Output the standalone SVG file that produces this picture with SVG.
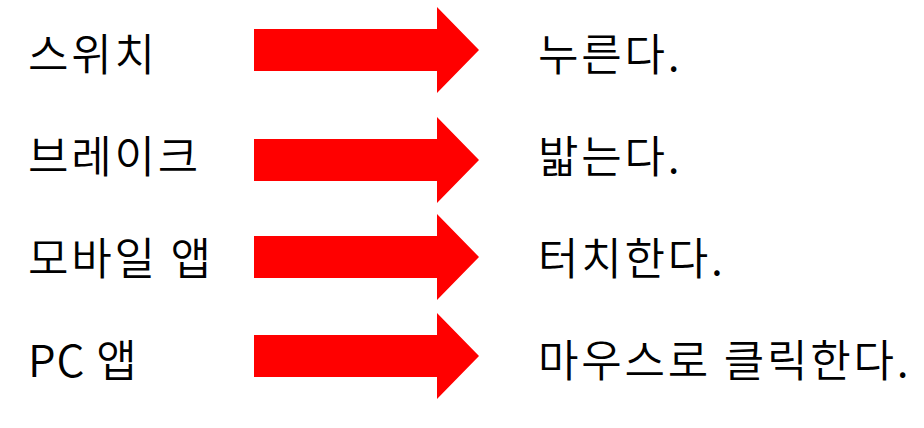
<svg xmlns="http://www.w3.org/2000/svg" width="924" height="428" viewBox="0 0 924 428">
<defs>
<style>
text{font-family:"Noto Sans CJK KR","Noto Sans",sans-serif;font-size:44px;letter-spacing:2.8px;font-weight:350;fill:#000}
.arr{fill:#ff0000}
</style>
<path id="arrow" d="M0,-21 H183 V-43 L225,0 L183,43 V21 H0 Z"/>
</defs>
<rect width="924" height="428" fill="#fff"/>
<g id="row1">
<text x="28" y="71">스위치</text>
<text x="538" y="71">누른다.</text>
</g>
<g id="row2">
<text x="28" y="173">브레이크</text>
<text x="538" y="173">밟는다.</text>
</g>
<g id="row3">
<text x="28" y="275">모바일 앱</text>
<text x="538" y="275">터치한다.</text>
</g>
<g id="row4">
<text x="28" y="377" style="letter-spacing:1px">PC 앱</text>
<text x="538" y="377">마우스로 클릭한다.</text>
</g>
<g id="connectors">
<use href="#arrow" class="arr" x="254" y="50"/>
<use href="#arrow" class="arr" x="254" y="160"/>
<use href="#arrow" class="arr" x="254" y="257"/>
<use href="#arrow" class="arr" x="254" y="356"/>
</g>
</svg>
